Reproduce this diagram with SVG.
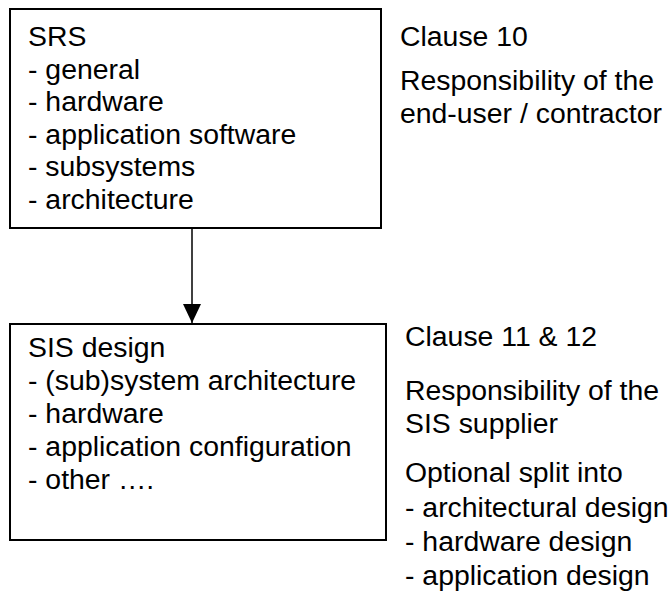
<svg xmlns="http://www.w3.org/2000/svg" width="669" height="593" viewBox="0 0 669 593">
<style>
text{font-family:"Liberation Sans",Arial,sans-serif;font-size:28.4px;fill:#000}
.box{fill:#fff;stroke:#000;stroke-width:2}
.conn{stroke:#000;stroke-width:1.5;fill:none}
</style>
<defs>
<marker id="arr" markerUnits="userSpaceOnUse" markerWidth="20" markerHeight="18" refX="19" refY="9" orient="auto">
<path d="M0,0 L19,9 L0,18 Z" fill="#000"/>
</marker>
</defs>
<rect width="669" height="593" fill="#fff"/>
<g id="connectors">
<line class="conn" x1="192" y1="228" x2="192" y2="323" marker-end="url(#arr)"/>
</g>
<g id="srs">
<rect class="box" x="10" y="9" width="371" height="219"/>
<text x="28" y="46">SRS</text>
<text x="28" y="78.5">- general</text>
<text x="28" y="111">- hardware</text>
<text x="28" y="143.5">- application software</text>
<text x="28" y="176">- subsystems</text>
<text x="28" y="208.5">- architecture</text>
</g>
<g id="sis-design">
<rect class="box" x="10" y="324" width="376" height="216"/>
<text x="28" y="357">SIS design</text>
<text x="28" y="390">- (sub)system architecture</text>
<text x="28" y="423">- hardware</text>
<text x="28" y="456">- application configuration</text>
<text x="28" y="489">- other ….</text>
</g>
<g id="note-srs">
<text x="400" y="46">Clause 10</text>
<text x="400" y="90">Responsibility of the</text>
<text x="400" y="123">end-user / contractor</text>
</g>
<g id="note-sis">
<text x="405" y="346">Clause 11 &amp; 12</text>
<text x="405" y="400">Responsibility of the</text>
<text x="405" y="433">SIS supplier</text>
<text x="405" y="482">Optional split into</text>
<text x="405" y="517">- architectural design</text>
<text x="405" y="551">- hardware design</text>
<text x="405" y="585">- application design</text>
</g>
</svg>
